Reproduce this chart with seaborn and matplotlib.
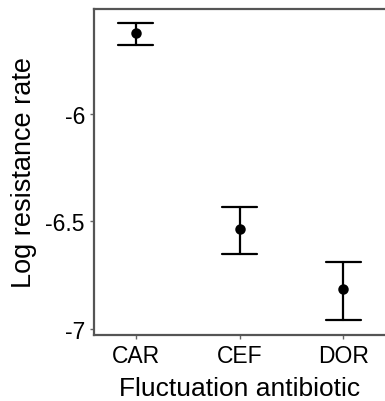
import matplotlib
matplotlib.use("Agg")
import matplotlib.pyplot as plt
import seaborn as sns
import pandas as pd

categories = ["CAR", "CEF", "DOR"]
means = [-5.625, -6.536, -6.814]
lower = [-5.678, -6.653, -6.960]
upper = [-5.578, -6.433, -6.687]
yticks = [-7, -6.5, -6]
ytick_labels = ["-7", "-6.5", "-6"]

rows = []
for c, lo, m, hi in zip(categories, lower, means, upper):
    for v in (lo, m, hi):
        rows.append({"antibiotic": c, "rate": v})
df = pd.DataFrame(rows)

sns.set_style("white")
plt.rcParams["font.family"] = ["Liberation Sans", "DejaVu Sans"]

fig = plt.figure(figsize=(3.85, 4.02), dpi=100)
ax_right = 1.06
ax = fig.add_axes([94/385, 1-336/402, ax_right-94/385, (336-10)/402])

sns.pointplot(data=df, x="antibiotic", y="rate", order=categories,
              estimator="median", errorbar=("pi", 100), capsize=0.33,
              color="black", linestyle="none", markers="o",
              markersize=5.5, err_kws={"linewidth": 1.6}, ax=ax)

ax.set_xlim(-0.4, 2.4 + (ax_right - 1) * 385 / 104)
ax.set_ylim(-7.028, -5.512)
ax.set_yticks(yticks)
ax.set_yticklabels(ytick_labels)
ax.set_xlabel("Fluctuation antibiotic", fontsize=19, color="black", labelpad=7)
ax.xaxis.set_label_coords((240 - 94) / (ax_right * 385 - 94), -0.125)
ax.set_ylabel("Log resistance rate", fontsize=19.5, color="black", labelpad=6)
ax.tick_params(axis="both", labelsize=16.5, colors="black", length=3,
               width=1, color="#666666", left=True, bottom=True)
for s in ["left", "bottom", "top"]:
    ax.spines[s].set_color("#555555")
    ax.spines[s].set_linewidth(1.6)
ax.spines["right"].set_visible(False)

fig.savefig("out.png", dpi=100)
